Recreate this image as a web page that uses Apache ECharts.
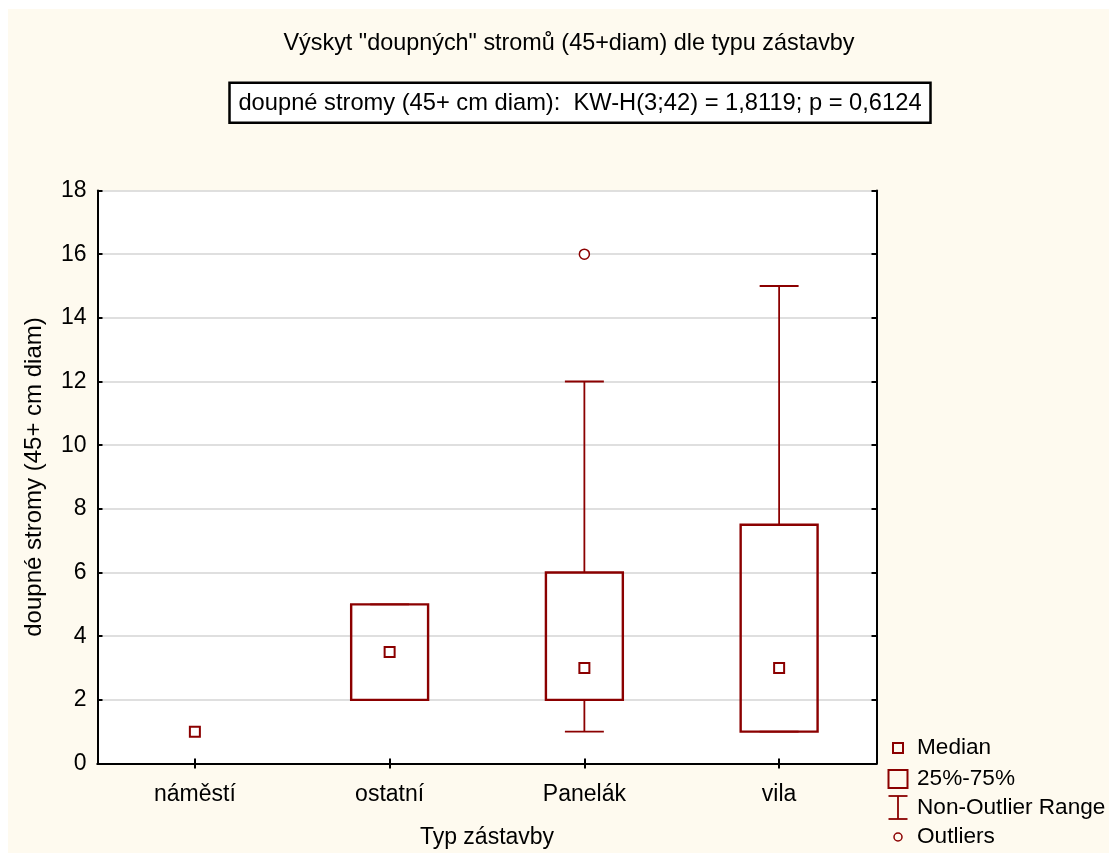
<!DOCTYPE html>
<html>
<head>
<meta charset="utf-8">
<script src="https://cdn.jsdelivr.net/npm/echarts@6/dist/echarts.min.js"></script>
<style>
html,body{margin:0;padding:0;background:#fff;}
#chart{width:1109px;height:853px;}
</style>
</head>
<body>
<div id="chart"></div>
<script>
// ---- data ----
const categories = ['náměstí', 'ostatní', 'Panelák', 'vila'];
const medians = [1, 3.5, 3, 3];
const q1 = [1, 2, 2, 1];
const q3 = [1, 5, 6, 7.5];
const whiskerMin = [1, 2, 1, 1];
const whiskerMax = [1, 5, 12, 15];
const outlierCategory = ['Panelák'];
const outlierValues = [16];
const yMin = 0, yMax = 18, yStep = 2;
const titleText = 'Výskyt "doupných" stromů (45+diam) dle typu zástavby';
const statText = 'doupné stromy (45+ cm diam):  KW-H(3;42) = 1,8119; p = 0,6124';
const yName = 'doupné stromy (45+ cm diam)';
const xName = 'Typ zástavby';
const legendLabels = ['Median', '25%-75%', 'Non-Outlier Range', 'Outliers'];

// ---- styles ----
const FONT = 'Liberation Sans, Arial, sans-serif';
const RED = '#8b0000';
const CREAM = '#fefaef';

const boxData = categories.map((c, i) => [i, whiskerMin[i], q1[i], q3[i], whiskerMax[i]]);
const medianData = categories.map((c, i) => [i, medians[i]]);
const outlierData = outlierCategory.map((c, i) => [categories.indexOf(c), outlierValues[i]]);

function renderBox(params, api) {
  const x = api.value(0);
  const lo = api.value(1), a = api.value(2), b = api.value(3), hi = api.value(4);
  const children = [];
  if (b - a <= 0 && hi - lo <= 0) return { type: 'group', children };
  const band = api.size([1, 0])[0];
  const boxW = band * 0.395, capW = band * 0.2;
  const pLo = api.coord([x, lo]), pA = api.coord([x, a]), pB = api.coord([x, b]), pHi = api.coord([x, hi]);
  const ls = { stroke: RED, lineWidth: 1.8 };
  const cx = pA[0];
  children.push({ type: 'line', shape: { x1: cx, y1: pLo[1], x2: cx, y2: pA[1] }, style: ls });
  children.push({ type: 'line', shape: { x1: cx, y1: pB[1], x2: cx, y2: pHi[1] }, style: ls });
  children.push({ type: 'line', shape: { x1: cx - capW / 2, y1: pLo[1], x2: cx + capW / 2, y2: pLo[1] }, style: ls });
  children.push({ type: 'line', shape: { x1: cx - capW / 2, y1: pHi[1], x2: cx + capW / 2, y2: pHi[1] }, style: ls });
  children.push({ type: 'rect', shape: { x: cx - boxW / 2, y: pB[1], width: boxW, height: pA[1] - pB[1] },
    style: { fill: 'none', stroke: RED, lineWidth: 2.4 } });
  return { type: 'group', children };
}

const chart = echarts.init(document.getElementById('chart'), null, { renderer: 'canvas' });

const legendX = 898, legendTextX = 917;
const legendY = [748, 779, 808, 837];

chart.setOption({
  animation: false,
  backgroundColor: '#fff',
  textStyle: { fontFamily: FONT },
  grid: { left: 97.5, right: 232.5, top: 190.5, bottom: 89.5, show: true, backgroundColor: '#fff', borderWidth: 0,
    containLabel: false, outerBoundsMode: 'none' },
  xAxis: [{
    type: 'category', data: categories, position: 'bottom',
    axisLine: { show: true, lineStyle: { color: '#000', width: 2 } },
    axisTick: { show: true, inside: true, alignWithLabel: true, length: 5, lineStyle: { color: '#000', width: 2 } },
    axisLabel: { fontSize: 23, color: '#000', margin: 20, fontFamily: FONT },
    splitLine: { show: false },
    name: xName, nameLocation: 'middle', nameGap: 63,
    nameTextStyle: { fontSize: 23, color: '#000', fontFamily: FONT }
  }, {
    type: 'category', data: categories, position: 'top',
    axisLine: { show: true, lineStyle: { color: '#000', width: 2 } },
    axisTick: { show: true, inside: true, alignWithLabel: true, length: 5, lineStyle: { color: '#000', width: 2 } },
    axisLabel: { show: false }, splitLine: { show: false }
  }],
  yAxis: [{
    type: 'value', min: yMin, max: yMax, interval: yStep, position: 'left',
    axisLine: { show: true, lineStyle: { color: '#000', width: 2 } },
    axisTick: { show: true, inside: true, length: 5, lineStyle: { color: '#000', width: 2 } },
    axisLabel: { fontSize: 23, color: '#000', margin: 11, fontFamily: FONT },
    splitLine: { show: true, lineStyle: { color: '#d4d4d4', width: 1.5 } },
    name: yName, nameLocation: 'middle', nameGap: 51, nameRotate: 90,
    nameTextStyle: { fontSize: 24, color: '#000', fontFamily: FONT }
  }, {
    type: 'value', min: yMin, max: yMax, interval: yStep, position: 'right',
    axisLine: { show: true, lineStyle: { color: '#000', width: 2 } },
    axisTick: { show: true, inside: true, length: 5, lineStyle: { color: '#000', width: 2 } },
    axisLabel: { show: false }, splitLine: { show: false }
  }],
  graphic: [
    { type: 'rect', z: -100, silent: true, shape: { x: 8, y: 9, width: 1109, height: 853 }, style: { fill: CREAM } },
    { type: 'text', silent: true, x: 569, y: 44,
      style: { text: titleText, font: '23.4px ' + FONT, fill: '#000', align: 'center', verticalAlign: 'middle' } },
    { type: 'rect', silent: true, shape: { x: 229.5, y: 82.7, width: 701, height: 40 },
      style: { fill: '#fff', stroke: '#000', lineWidth: 2.5 } },
    { type: 'text', silent: true, x: 580, y: 103, z: 10,
      style: { text: statText, font: '23.7px ' + FONT, fill: '#000', align: 'center', verticalAlign: 'middle' } },
    // legend
    { type: 'rect', silent: true, shape: { x: legendX - 5, y: legendY[0] - 5, width: 10, height: 10 },
      style: { fill: 'none', stroke: RED, lineWidth: 2 } },
    { type: 'rect', silent: true, shape: { x: legendX - 9.5, y: legendY[1] - 9, width: 19, height: 18 },
      style: { fill: 'none', stroke: RED, lineWidth: 2 } },
    { type: 'polyline', silent: true, shape: { points: [[legendX - 9.5, legendY[2] - 12], [legendX + 9.5, legendY[2] - 12]] },
      style: { stroke: RED, lineWidth: 1.8 } },
    { type: 'polyline', silent: true, shape: { points: [[legendX - 9.5, legendY[2] + 11], [legendX + 9.5, legendY[2] + 11]] },
      style: { stroke: RED, lineWidth: 1.8 } },
    { type: 'polyline', silent: true, shape: { points: [[legendX, legendY[2] - 12], [legendX, legendY[2] + 11]] },
      style: { stroke: RED, lineWidth: 1.8 } },
    { type: 'circle', silent: true, shape: { cx: legendX, cy: legendY[3], r: 4 },
      style: { fill: 'none', stroke: RED, lineWidth: 1.5 } },
  ].concat(legendLabels.map((t, i) => ({
    type: 'text', silent: true, x: legendTextX, y: legendY[i],
    style: { text: t, font: '22.6px ' + FONT, fill: '#000', align: 'left', verticalAlign: 'middle' }
  }))),
  series: [{
    type: 'custom', xAxisIndex: 0, yAxisIndex: 0, silent: true,
    renderItem: renderBox, encode: { x: 0, y: [1, 2, 3, 4] }, data: boxData, z: 3
  }, {
    type: 'scatter', xAxisIndex: 0, yAxisIndex: 0, silent: true, symbol: 'rect', symbolSize: 10,
    itemStyle: { color: '#fff', borderColor: RED, borderWidth: 2, opacity: 1 },
    data: medianData, z: 4
  }, {
    type: 'scatter', xAxisIndex: 0, yAxisIndex: 0, silent: true, symbol: 'circle', symbolSize: 10,
    itemStyle: { color: '#fff', borderColor: RED, borderWidth: 1.5, opacity: 1 },
    data: outlierData, z: 4
  }]
});
</script>
</body>
</html>
